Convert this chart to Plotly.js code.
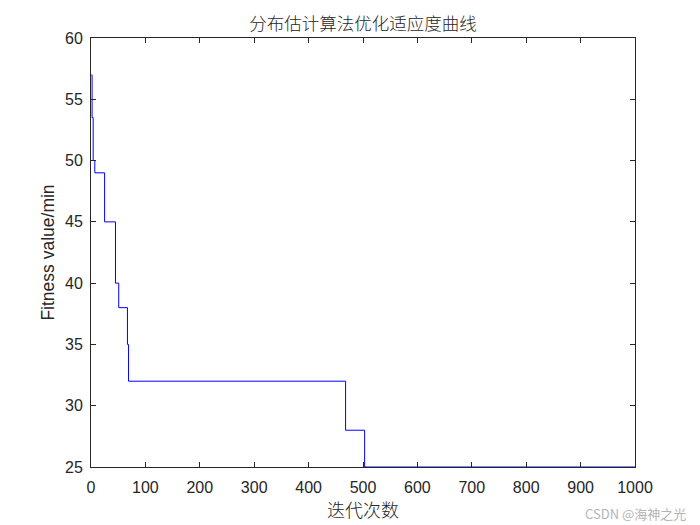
<!DOCTYPE html>
<html>
<head>
<meta charset="utf-8">
<script src="https://cdn.plot.ly/plotly-3.0.1.min.js"></script>
<style>html,body{margin:0;padding:0;background:#fff;}#chart{width:700px;height:525px;}</style>
</head>
<body>
<div id="chart"></div>
<script>
const iterations = [1, 2, 4, 7, 25, 45, 51, 67, 69, 468, 503, 1000];
const fitness    = [57, 53.5, 50, 49, 45, 40, 38, 35, 32, 28, 25, 25];
const xTicks = [0,100,200,300,400,500,600,700,800,900,1000];
const yTicks = [25,30,35,40,45,50,55,60];
const titleText = '分布估计算法优化适应度曲线';
const xTitle = '迭代次数';
const yTitle = 'Fitness value/min';

const trace = {
  x: iterations, y: fitness, type: 'scatter', mode: 'lines',
  line: {shape: 'hv', color: '#0000ff', width: 1},
  hoverinfo: 'none'
};
const axisCommon = {
  showgrid: false, zeroline: false, showline: true, mirror: 'ticks',
  linecolor: '#262626', linewidth: 1, ticks: 'inside', ticklen: 5,
  tickcolor: '#262626', tickfont: {family: 'Liberation Sans, Arial, sans-serif', size: 16, color: '#262626'}
};
const layout = {
  width: 700, height: 525,
  margin: {l: 91, r: 65, t: 38, b: 58},
  paper_bgcolor: '#ffffff', plot_bgcolor: '#ffffff',
  showlegend: false,
  title: {text: titleText, x: 0.5186, xanchor: 'center', y: 1 - 24/525, yanchor: 'middle', yref: 'container',
          font: {family: 'Noto Sans CJK SC, sans-serif', size: 17.5, color: '#262626', weight: 300}},
  xaxis: Object.assign({}, axisCommon, {
    range: [0, 1000], tickvals: xTicks, ticktext: xTicks.map(String), ticklabelstandoff: 6,
    title: {text: xTitle, standoff: 4, font: {family: 'Noto Sans CJK SC, sans-serif', size: 18, color: '#262626', weight: 300}}
  }),
  yaxis: Object.assign({}, axisCommon, {
    range: [25, 60], tickvals: yTicks, ticktext: yTicks.map(String), ticklabelstandoff: 4,
    title: {text: yTitle, standoff: 5, font: {family: 'Liberation Sans, Arial, sans-serif', size: 17.5, color: '#262626'}}
  }),
  annotations: [{
    text: 'CSDN @海神之光', xref: 'paper', yref: 'paper', x: 1 + 53/544, y: -46/429,
    xanchor: 'right', yanchor: 'middle', showarrow: false,
    font: {family: 'Noto Sans CJK SC, sans-serif', size: 13, color: '#b4b4b4'}
  }]
};
Plotly.newPlot('chart', [trace], layout, {staticPlot: true, displayModeBar: false});
</script>
</body>
</html>
